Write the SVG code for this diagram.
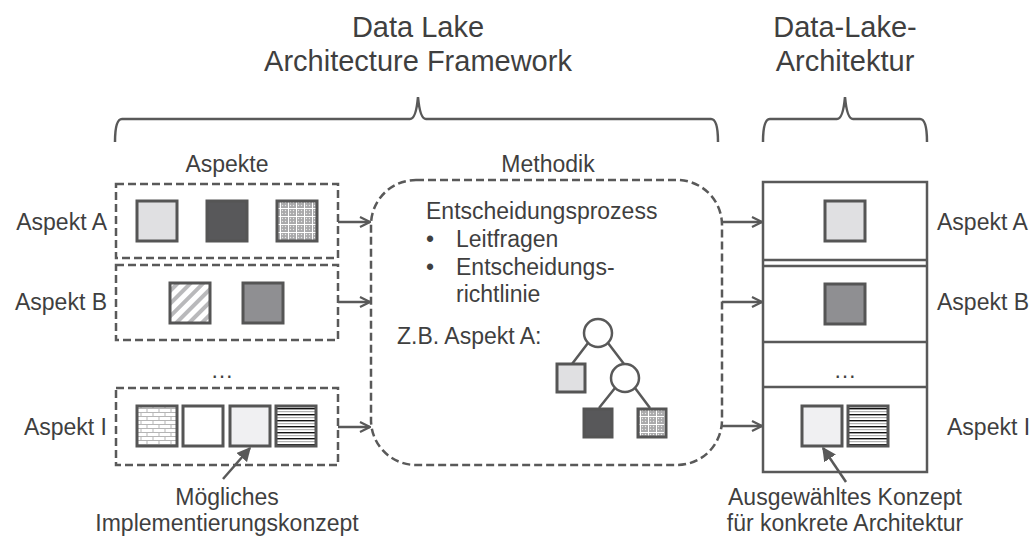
<svg xmlns="http://www.w3.org/2000/svg" width="1034" height="540" viewBox="0 0 1034 540">
  <defs>
    <style>
      text { font-family: "Liberation Sans", Arial, sans-serif; fill: #3f3f3f; }
      .title { font-size: 29px; text-anchor: middle; }
      .lbl { font-size: 23px; }
      .mid { text-anchor: middle; }
      .end { text-anchor: end; }
      .dash { fill: none; stroke: #595959; stroke-width: 2.5; stroke-dasharray: 8 4; }
      .line { fill: none; stroke: #595959; stroke-width: 2.5; }
      .sq { stroke: #555555; stroke-width: 3; }
      .arrow { fill: none; stroke: #595959; stroke-width: 2.5; marker-end: url(#open); }
      .pointer { fill: none; stroke: #595959; stroke-width: 2.5; marker-end: url(#solid); }
      .c-light { fill: #e0e0e2; }
      .c-dark { fill: #58585a; }
      .c-mid { fill: #8f8f92; }
      .c-pale { fill: #f0f0f2; }
      .c-white { fill: #ffffff; }
    </style>
    <marker id="open" viewBox="0 0 12 12" refX="11" refY="6" markerWidth="12" markerHeight="12" markerUnits="userSpaceOnUse" orient="auto">
      <path d="M1,1 L11,6 L1,11" fill="none" stroke="#595959" stroke-width="2.2"/>
    </marker>
    <marker id="solid" viewBox="0 0 10 10" refX="9" refY="5" markerWidth="14" markerHeight="14" markerUnits="userSpaceOnUse" orient="auto">
      <path d="M0,0 L10,5 L0,10 Z" fill="#595959"/>
    </marker>
    <!-- fine dotted grid -->
    <pattern id="dots" width="8" height="8" patternUnits="userSpaceOnUse">
      <rect width="8" height="8" fill="#a9a9ab"/>
      <path d="M0,0.5 H8 M0.5,0 V8" stroke="#ffffff" stroke-width="1"/>
      <circle cx="2.5" cy="2.5" r="0.7" fill="#e8e8e8"/>
      <circle cx="5.5" cy="2.5" r="0.7" fill="#e8e8e8"/>
      <circle cx="2.5" cy="5.5" r="0.7" fill="#e8e8e8"/>
      <circle cx="5.5" cy="5.5" r="0.7" fill="#e8e8e8"/>
    </pattern>
    <!-- wide diagonal stripes -->
    <pattern id="diag" width="9" height="9" patternUnits="userSpaceOnUse" patternTransform="rotate(45)">
      <rect width="9" height="9" fill="#ffffff"/>
      <rect x="0" y="0" width="4" height="9" fill="#b9b9bb"/>
    </pattern>
    <!-- brick -->
    <pattern id="brick" width="12" height="8" patternUnits="userSpaceOnUse">
      <rect width="12" height="8" fill="#ffffff"/>
      <path d="M0,0.5 H12 M0,4.5 H12 M3,0 V4 M9,4 V8" stroke="#b5b5b5" stroke-width="1"/>
    </pattern>
    <!-- horizontal lines -->
    <pattern id="hlines" width="8" height="6" patternUnits="userSpaceOnUse">
      <rect width="8" height="6" fill="#ffffff"/>
      <rect y="0" width="8" height="1.4" fill="#111111"/>
      <rect y="3" width="8" height="1.2" fill="#b0b0b0"/>
    </pattern>
  </defs>

  <!-- titles and braces -->
  <g id="framework-title">
    <text class="title" x="418" y="37">Data Lake</text>
    <text class="title" x="418" y="71">Architecture Framework</text>
    <path class="line" d="M115,142 Q115,119 122,119 H410 Q416,119 418,97 Q420,119 426,119 H711 Q718,119 718,142"/>
  </g>
  <g id="architecture-title">
    <text class="title" x="845" y="37">Data-Lake-</text>
    <text class="title" x="845" y="71">Architektur</text>
    <path class="line" d="M763,142 Q763,119 770,119 H837 Q843,119 845,97 Q847,119 853,119 H920 Q927,119 927,142"/>
  </g>

  <!-- aspects -->
  <g id="aspekte">
    <text class="lbl mid" x="227" y="172">Aspekte</text>
    <text class="lbl mid" x="222" y="378">…</text>
  </g>
  <g id="aspekt-a">
    <text class="lbl end" x="107" y="230">Aspekt A</text>
    <rect class="dash" x="116" y="184" width="222" height="74"/>
    <rect class="sq c-light" x="137" y="201" width="40" height="40"/>
    <rect class="sq c-dark" x="207" y="201" width="40" height="40"/>
    <rect class="sq" fill="url(#dots)" x="277" y="201" width="40" height="40"/>
  </g>
  <g id="aspekt-b">
    <text class="lbl end" x="107" y="310">Aspekt B</text>
    <rect class="dash" x="116" y="265" width="222" height="75"/>
    <rect class="sq" fill="url(#diag)" x="170" y="283" width="40" height="40"/>
    <rect class="sq c-mid" x="243" y="283" width="40" height="40"/>
  </g>
  <g id="aspekt-i">
    <text class="lbl end" x="107" y="435">Aspekt I</text>
    <rect class="dash" x="116" y="388" width="222" height="77"/>
    <rect class="sq" fill="url(#brick)" x="137" y="406" width="40" height="40"/>
    <rect class="sq c-white" x="183" y="406" width="40" height="40"/>
    <rect class="sq c-pale" x="230" y="406" width="40" height="40"/>
    <rect class="sq" fill="url(#hlines)" x="276" y="406" width="40" height="40"/>
  </g>
  <g id="moegliches-konzept">
    <text class="lbl mid" x="227" y="505">Mögliches</text>
    <text class="lbl mid" x="227" y="531">Implementierungskonzept</text>
  </g>

  <!-- method -->
  <g id="methodik">
    <text class="lbl mid" x="548" y="172">Methodik</text>
    <rect class="dash" x="371" y="180" width="351" height="285" rx="45" ry="45"/>
    <text class="lbl" x="426" y="219">Entscheidungsprozess</text>
    <text class="lbl" x="426" y="247">•</text>
    <text class="lbl" x="456" y="247">Leitfragen</text>
    <text class="lbl" x="426" y="275">•</text>
    <text class="lbl" x="456" y="275">Entscheidungs-</text>
    <text class="lbl" x="456" y="302">richtlinie</text>
    <text class="lbl" x="397" y="344">Z.B. Aspekt A:</text>
  </g>
  <g id="entscheidungsbaum">
    <path class="line" d="M588,343 L572,364 M608,343 L624,364 M615,388 L599,408 M635,388 L650,408"/>
    <circle class="line" cx="598" cy="333" r="14" fill="#ffffff"/>
    <circle class="line" cx="625" cy="378" r="14" fill="#ffffff"/>
    <rect class="sq c-light" x="557" y="364" width="28" height="28"/>
    <rect class="sq c-dark" x="584" y="409" width="28" height="28"/>
    <rect class="sq" fill="url(#dots)" x="638" y="409" width="28" height="28"/>
  </g>

  <!-- resulting architecture -->
  <g id="architektur">
    <rect class="line" x="763" y="182" width="164" height="290"/>
    <path class="line" d="M763,260 H927 M763,266 H927 M763,342 H927 M763,387 H927"/>
    <rect class="sq c-light" x="825" y="201" width="40" height="40"/>
    <rect class="sq c-mid" x="825" y="284" width="40" height="40"/>
    <text class="lbl mid" x="845" y="378">…</text>
    <rect class="sq c-pale" x="802" y="406" width="40" height="40"/>
    <rect class="sq" fill="url(#hlines)" x="848" y="406" width="40" height="40"/>
    <text class="lbl" x="937" y="230">Aspekt A</text>
    <text class="lbl" x="937" y="310">Aspekt B</text>
    <text class="lbl" x="947" y="435">Aspekt I</text>
  </g>
  <g id="ausgewaehltes-konzept">
    <text class="lbl mid" x="845" y="505">Ausgewähltes Konzept</text>
    <text class="lbl mid" x="845" y="531">für konkrete Architektur</text>
  </g>

  <!-- connectors -->
  <g id="connectors">
    <line class="arrow" x1="338" y1="222" x2="370" y2="222"/>
    <line class="arrow" x1="338" y1="302" x2="370" y2="302"/>
    <line class="arrow" x1="338" y1="427" x2="370" y2="427"/>
    <line class="arrow" x1="722" y1="222" x2="762" y2="222"/>
    <line class="arrow" x1="722" y1="302" x2="762" y2="302"/>
    <line class="arrow" x1="722" y1="426" x2="762" y2="426"/>
    <line class="pointer" x1="223" y1="479" x2="250" y2="448"/>
    <line class="pointer" x1="846" y1="482" x2="823" y2="448"/>
  </g>
</svg>
